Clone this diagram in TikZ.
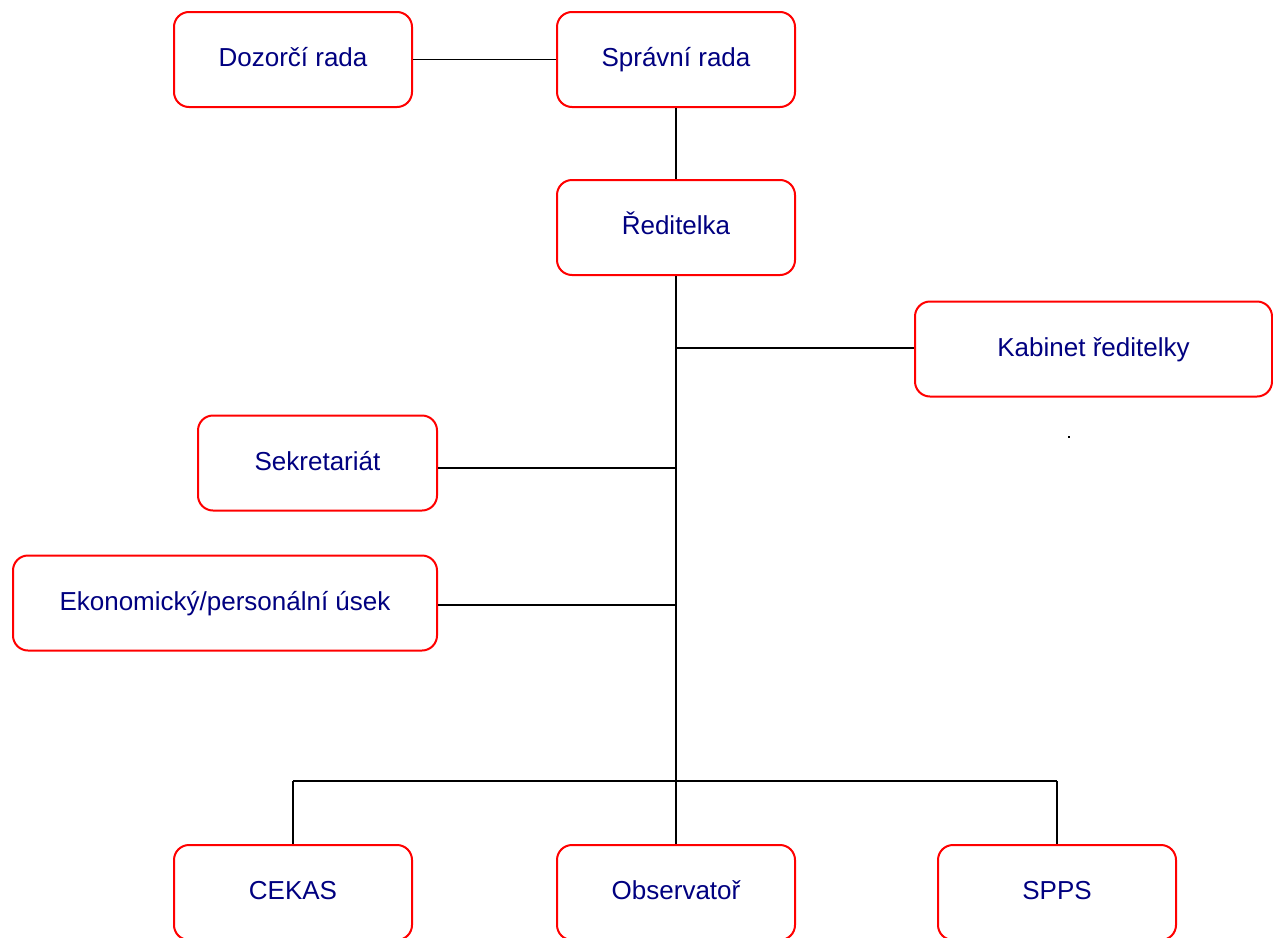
\documentclass[tikz,border=0pt]{standalone}
\usepackage{fontspec}
\setmainfont{Liberation Sans}
\definecolor{boxtext}{RGB}{0,0,128}
\begin{document}
\begin{tikzpicture}[x=1pt,y=-1pt,
  orgbox/.style={draw=red, line width=2pt, rounded corners=15pt, fill=white,
    minimum width=238pt, minimum height=95pt, inner sep=0pt,
    text height=19pt, text depth=5pt,
    text=boxtext, font=\fontsize{26}{30}\selectfont},
  conn/.style={draw=black, line width=1.5pt}]
\useasboundingbox (0,0) rectangle (1273,937);
\node[orgbox] (dozor) at (293,59.5) {Dozorčí rada};
\node[orgbox] (sprav) at (676,59.5) {Správní rada};
\node[orgbox] (red) at (676,227.5) {Ředitelka};
\node[orgbox, minimum width=357pt] (kab) at (1093.5,349) {Kabinet ředitelky};
\node[orgbox, minimum width=239pt] (sekr) at (317.5,463) {Sekretariát};
\node[orgbox, minimum width=424pt] (eko) at (225,603) {Ekonomický/personální úsek};
\node[orgbox] (cekas) at (293,892.5) {CEKAS};
\node[orgbox] (obs) at (676,892.5) {Observatoř};
\node[orgbox] (spps) at (1057,892.5) {SPPS};
\coordinate (jk) at (676,348);
\coordinate (js) at (676,468);
\coordinate (je) at (676,605);
\coordinate (jb) at (676,781);
\draw[conn] (dozor.east) -- (sprav.west);
\draw[conn] (sprav.south) -- (red.north);
\draw[conn] (red.south) -- (obs.north);
\draw[conn] (jk) -- (jk -| kab.west);
\draw[conn] (js) -- (js -| sekr.east);
\draw[conn] (je) -- (je -| eko.east);
\draw[conn] (jb -| cekas.north) -- (jb -| spps.north);
\draw[conn] (jb -| cekas.north) -- (cekas.north);
\draw[conn] (jb -| spps.north) -- (spps.north);
\fill[black] (1068,436) rectangle (1070,438);
\end{tikzpicture}
\end{document}
